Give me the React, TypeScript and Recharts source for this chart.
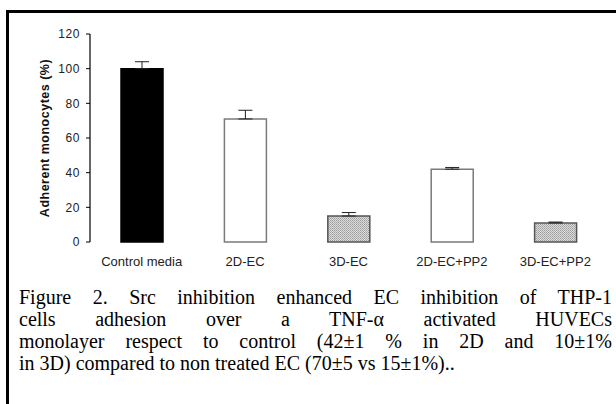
import React from 'react';
import { BarChart, Bar, Cell, XAxis, YAxis, ErrorBar } from 'recharts';

const categories = ['Control media', '2D-EC', '3D-EC', '2D-EC+PP2', '3D-EC+PP2'];
const adherence = [100, 71, 15, 42, 11];
const errorUp = [4, 5, 2, 1, 0.5];
const yTicks = [0, 20, 40, 60, 80, 100, 120];
const boundaryTicks = [0, 1, 2, 3, 4, 5];

const captionLines = [
  'Figure 2. Src inhibition enhanced EC inhibition of THP-1',
  'cells adhesion over a TNF-α activated HUVECs',
  'monolayer respect to control (42±1 % in 2D and 10±1%',
  'in 3D) compared to non treated EC (70±5 vs 15±1%)..',
];

const barFills = ['#000000', '#ffffff', 'url(#stipple)', '#ffffff', 'url(#stipple)'];
const barStrokes = ['#000000', '#7a7a7a', '#555555', '#7a7a7a', '#555555'];

const chartData = categories.map((name, i) => ({
  name,
  value: adherence[i],
  err: [0, errorUp[i]],
}));

const sans = '"Liberation Sans", Arial, sans-serif';

export default function App() {
  return (
    <div style={{ position: 'absolute', left: 0, top: 0, width: 616, height: 404, background: '#fff', overflow: 'hidden' }}>
      <div style={{ position: 'absolute', left: 6, top: 10, width: 660, height: 440, border: '3px solid #000' }} />
      <div style={{ position: 'absolute', left: 0, top: 0 }}>
        <BarChart width={616} height={280} data={chartData} margin={{ top: 34, right: 9, bottom: 8, left: 0 }}>
          <defs>
            <pattern id="stipple" width="2" height="2" patternUnits="userSpaceOnUse">
              <rect width="2" height="2" fill="#dcdcdc" />
              <rect width="1" height="1" fill="#9a9a9a" />
              <rect x="1" y="1" width="1" height="1" fill="#b0b0b0" />
            </pattern>
          </defs>
          <XAxis
            xAxisId="grid"
            type="number"
            domain={[0, 5]}
            ticks={boundaryTicks}
            tick={false}
            tickSize={5}
            height={0}
            axisLine={{ stroke: '#000', strokeWidth: 1.2 }}
            tickLine={{ stroke: '#000' }}
          />
          <XAxis
            xAxisId="cat"
            dataKey="name"
            axisLine={false}
            tickLine={false}
            tickSize={6}
            tickMargin={9}
            height={30}
            interval={0}
            tick={{ fill: '#222', fontSize: 13, fontFamily: sans }}
          />
          <YAxis
            domain={[0, 120]}
            ticks={yTicks}
            width={90}
            tickSize={4}
            tickMargin={6}
            axisLine={{ stroke: '#000', strokeWidth: 1.2 }}
            tickLine={{ stroke: '#000' }}
            tick={{ fill: '#222', fontSize: 12, fontFamily: sans, letterSpacing: 0.6 }}
            label={{
              value: 'Adherent monocytes (%)',
              angle: -90,
              position: 'insideLeft',
              offset: 45,
              style: { textAnchor: 'middle', fontFamily: sans, fontWeight: 'bold', fontSize: 12.5, fill: '#111', letterSpacing: 0.5 },
            }}
          />
          <Bar xAxisId="cat" dataKey="value" barSize={42} isAnimationActive={false}>
            {chartData.map((d, i) => (
              <Cell key={d.name} fill={barFills[i]} stroke={barStrokes[i]} strokeWidth={1.5} />
            ))}
            <ErrorBar dataKey="err" width={7} stroke="#222" strokeWidth={1} direction="y" />
          </Bar>
        </BarChart>
      </div>
      <div
        style={{
          position: 'absolute',
          left: 19,
          top: 286,
          width: 593,
          fontFamily: '"Liberation Serif", "Times New Roman", serif',
          fontSize: 20,
          lineHeight: '22px',
          color: '#000',
        }}
      >
        {captionLines.map((line, i) => (
          <div
            key={i}
            style={{
              whiteSpace: 'nowrap',
              textAlign: i < captionLines.length - 1 ? 'justify' : 'left',
              textAlignLast: i < captionLines.length - 1 ? 'justify' : 'left',
            }}
          >
            {line}
          </div>
        ))}
      </div>
    </div>
  );
}
